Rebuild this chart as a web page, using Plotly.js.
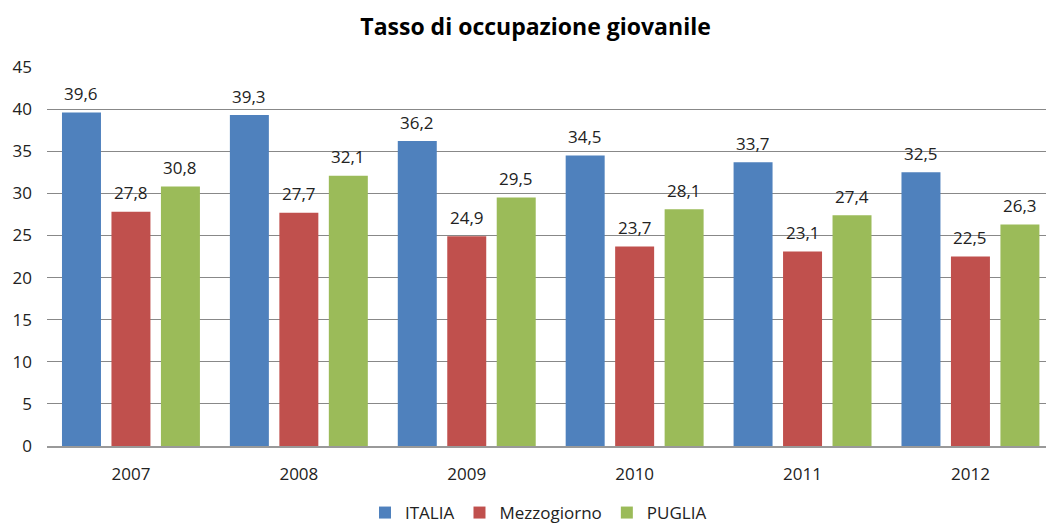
<!DOCTYPE html>
<html>
<head>
<meta charset="utf-8">
<script src="https://cdn.plot.ly/plotly-3.0.1.min.js"></script>
<style>html,body{margin:0;padding:0;background:#fff;}#chart{width:1046px;height:523px;}</style>
</head>
<body>
<div id="chart"></div>
<script>
const years = ['2007', '2008', '2009', '2010', '2011', '2012'];
const italia = [39.6, 39.3, 36.2, 34.5, 33.7, 32.5];
const mezzogiorno = [27.8, 27.7, 24.9, 23.7, 23.1, 22.5];
const puglia = [30.8, 32.1, 29.5, 28.1, 27.4, 26.3];
const seriesNames = ['ITALIA', 'Mezzogiorno', 'PUGLIA'];
const yTicks = [0, 5, 10, 15, 20, 25, 30, 35, 40, 45];

const colors = ['#4F81BD', '#C0504D', '#9BBB59'];
const font = 'Open Sans, Liberation Sans, sans-serif';
const allSeries = [italia, mezzogiorno, puglia];

const W = 1046, H = 523;
const margin = {l: 47, r: 0, t: 67, b: 77};
const xRange = [-0.5, 5.45];
const bargap = 0.116;
const catPx = (W - margin.l - margin.r) / (xRange[1] - xRange[0]);
const slotPx = catPx * (1 - bargap) / allSeries.length;

const data = allSeries.map((vals, i) => ({
  type: 'bar', name: seriesNames[i], x: years, y: vals,
  marker: {color: colors[i]}, hoverinfo: 'none'
}));

const annotations = [];
allSeries.forEach((vals, i) => {
  vals.forEach((v, j) => {
    annotations.push({
      x: j, y: v, xref: 'x', yref: 'y',
      text: v.toFixed(1).replace('.', ','),
      showarrow: false, xshift: (i - 1) * slotPx, yshift: 19,
      xanchor: 'center', yanchor: 'middle',
      font: {family: font, size: 17, color: '#222'}
    });
  });
});

const layout = {
  width: W, height: H, margin: margin,
  paper_bgcolor: '#fff', plot_bgcolor: '#fff',
  font: {family: font, size: 17, color: '#222'},
  title: {text: '<b>Tasso di occupazione giovanile</b>', x: 0.512, xanchor: 'center', y: 0.948, yanchor: 'middle', font: {family: font, size: 23, color: '#000'}},
  barmode: 'group', bargap: bargap, bargroupgap: 0.212,
  xaxis: {type: 'category', range: xRange, showgrid: false, showline: true, linecolor: '#999', linewidth: 2, ticks: '', ticklabelstandoff: 12, tickfont: {size: 17, color: '#222'}, fixedrange: true},
  yaxis: {range: [0, 45], tickvals: yTicks, showgrid: true, gridcolor: '#888', gridwidth: 1, zeroline: false, showline: false, ticks: '', ticklabelstandoff: 14, tickfont: {size: 17, color: '#222'}, fixedrange: true},
  showlegend: true,
  legend: {orientation: 'h', x: 0.492, xanchor: 'center', yref: 'container', y: 1 - 513 / H, yanchor: 'middle', font: {size: 17, color: '#222'}, itemwidth: 30, traceorder: 'normal'},
  annotations: annotations
};

Plotly.newPlot('chart', data, layout, {displayModeBar: false, staticPlot: true});
</script>
</body>
</html>
